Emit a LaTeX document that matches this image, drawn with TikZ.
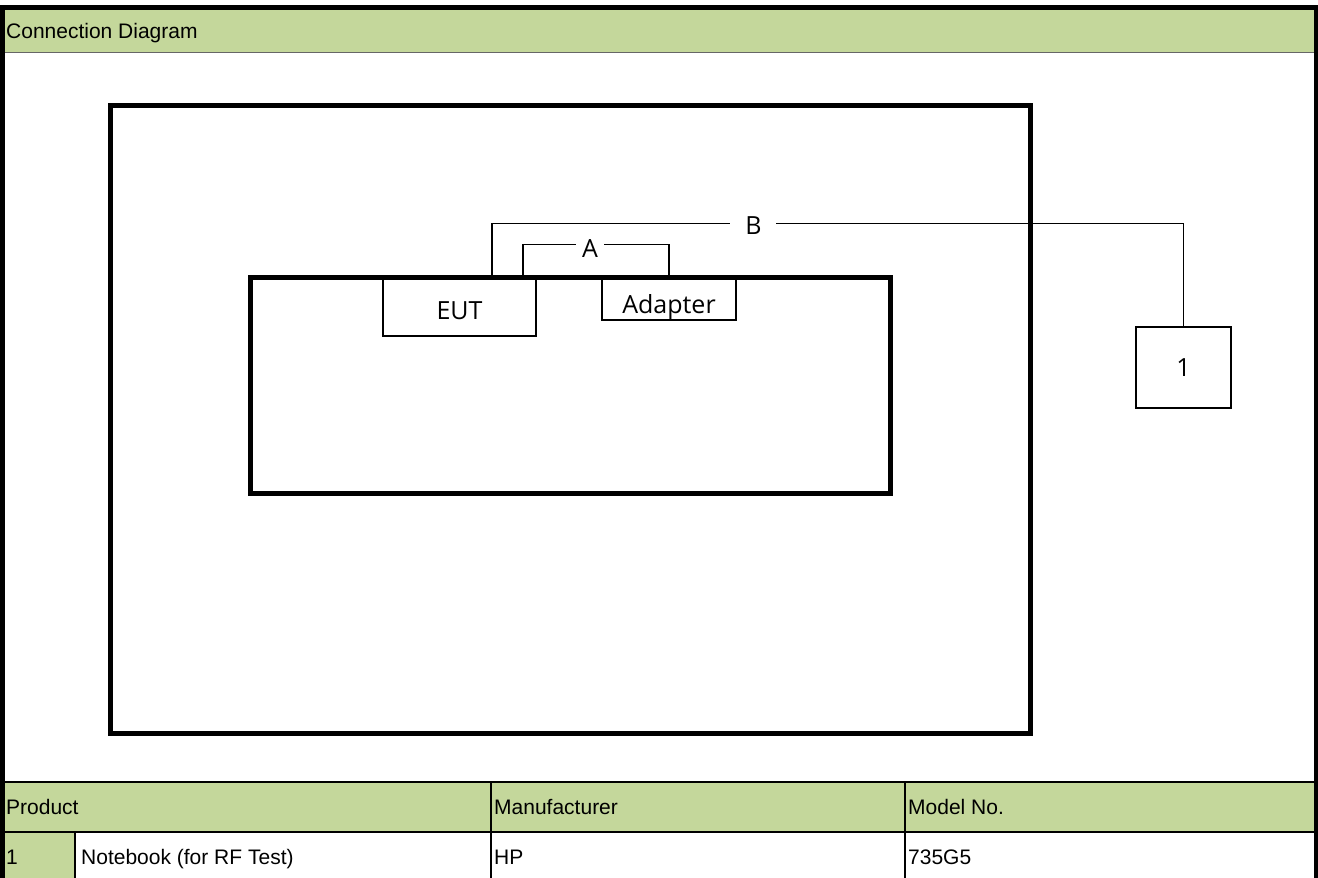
\documentclass[tikz,border=0pt]{standalone}
\usepackage{fontspec}
\setmainfont{Liberation Sans}
\newfontfamily\labelfont{Open Sans}
\usetikzlibrary{positioning, calc}
\definecolor{hdrgreen}{HTML}{C4D79B}
\tikzset{
  frame/.style={line width=5pt},
  unit/.style={draw, line width=1.5pt, inner sep=0pt, text depth=0pt, font=\labelfont\fontsize{25}{29}\selectfont},
  cable/.style={line width=1.5pt},
  tag/.style={fill=white, inner ysep=0pt, font=\labelfont\fontsize{25}{29}\selectfont},
  cell/.style={anchor=base west, inner sep=0pt, font=\fontsize{21}{25}\selectfont},
  rule/.style={line width=2pt},
}

\begin{document}
\begin{tikzpicture}[x=1pt, y=-1pt]
  \useasboundingbox (0,0) rectangle (1318,878);
  % sheet border and title band
  \fill[hdrgreen] (5,10) rectangle (1314,52);
  \draw[line width=0.5pt, black!60] (5,52) -- (1314,52);
  \fill (0,5) rectangle (1318,10);
  \fill (0,5) rectangle (5,878);
  \fill (1314,5) rectangle (1318,878);
  \node[cell] (title) at (6,38) {Connection Diagram};

  % room and table
  \draw[frame] (110,105) rectangle (1030,733);
  \draw[frame] (250,277) rectangle (890,493);
  \node[unit, text height=23pt, minimum width=153pt, minimum height=57pt] (eut) at (459.5,307.5) {EUT};
  \node[unit, text height=28pt, minimum width=134pt, minimum height=42pt] (adp) at (669,299) {Adapter};
  \node[unit, minimum width=95pt, minimum height=81pt] (dev1) at (1183.5,367.5) {1};

  % cables
  \draw[cable] ($(eut.north east)+(-14,0)$) -- ++(0,-34) coordinate (a1)
    -- node[tag, inner xsep=6pt, yshift=-4pt, pos=0.46] {A} (a1 -| adp.north) -- (adp.north);
  \draw[cable] ($(eut.north)+(32.5,0)$) -- ++(0,-55) coordinate (b1)
    -- node[tag, inner xsep=15pt, yshift=-2pt, pos=0.378] {B} (b1 -| dev1.north) -- (dev1.north);

  % product table
  \fill[hdrgreen] (5,782) rectangle (1314,832);
  \fill[hdrgreen] (5,832) rectangle (75,878);
  \draw[rule] (5,782) -- (1314,782);
  \draw[rule] (5,832) -- (1314,832);
  \draw[rule] (75,832) -- (75,878);
  \draw[rule] (491,782) -- (491,878);
  \draw[rule] (905,782) -- (905,878);
  \node[cell] (prod) at (6,814) {Product};
  \node[cell] (manu) at (494,814) {Manufacturer};
  \node[cell] (model) at (908,814) {Model No.};
  \node[cell] (no1) at (6,864) {1};
  \node[cell] (nb) at (81,864) {Notebook (for RF Test)};
  \node[cell] (hp) at (494,864) {HP};
  \node[cell] (mdl) at (908,864) {735G5};
\end{tikzpicture}
\end{document}
